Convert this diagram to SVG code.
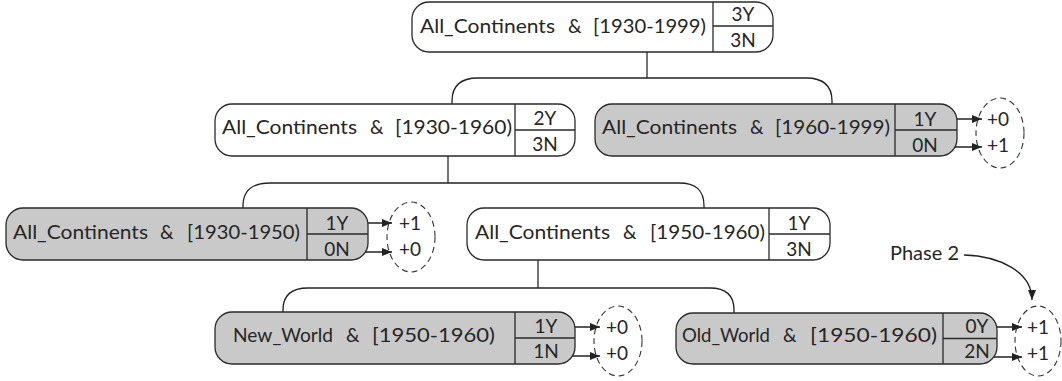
<svg xmlns="http://www.w3.org/2000/svg" width="1062" height="381" viewBox="0 0 1062 381">
<defs>
<marker id="ah" markerUnits="userSpaceOnUse" markerWidth="10" markerHeight="8" refX="10" refY="4" orient="auto"><path d="M0,0 L10,4 L0,8 z" fill="#222"/></marker>
<style>
text{font-family:Lato,"Open Sans","Liberation Sans",sans-serif;font-size:19px;fill:#262626}
.c{text-anchor:middle}
.box{stroke:#2a2a2a;stroke-width:1.3}
.w{fill:#fff}
.g{fill:#c9c9c9}
.ln{stroke:#2a2a2a;stroke-width:1.3;fill:none}
.ar{stroke:#222;stroke-width:1.3;fill:none;marker-end:url(#ah)}
.el{fill:none;stroke:#333;stroke-width:1.1;stroke-dasharray:6 4}
</style>
</defs>
<rect width="1062" height="381" fill="#fff"/>

<g id="connectors">
<path class="ln" d="M588,36 Q588,40 594,40 H641 Q647,40 647,43 Q647,40 653,40 H706 Q712,40 712,36"/>
<path class="ln" d="M647,43 V78"/>
<path class="ar" d="M647,78 H478 C461,78 452,85 452,101 V120"/>
<path class="ar" d="M647,78 H806 C823,78 832,85 832,101 V120"/>
<path class="ln" d="M390,138 Q390,142 396,142 H442 Q448,142 448,146 Q448,142 454,142 H507 Q513,142 513,138"/>
<path class="ln" d="M448,146 V183"/>
<path class="ar" d="M448,183 H270 C252,183 243,190 243,206 V224"/>
<path class="ar" d="M448,183 H679 C696,183 704,190 704,206 V223"/>
<path class="ln" d="M475,243 Q475,247 481,247 H532 Q538,247 538,250 Q538,247 544,247 H606 Q612,247 612,243"/>
<path class="ln" d="M538,250 V288"/>
<path class="ar" d="M538,288 H308 C291,288 283,295 283,310 V327"/>
<path class="ar" d="M538,288 H710 C726,288 734,295 734,310 V328"/>
<path class="ar" d="M964,255 C1000,256 1032,272 1032,300"/>
<path class="ar" d="M947,119 H982"/>
<path class="ar" d="M947,147 H982"/>
<path class="ar" d="M358,223 H392"/>
<path class="ar" d="M358,252 H392"/>
<path class="ar" d="M565,327 H600"/>
<path class="ar" d="M565,356 H600"/>
<path class="ar" d="M987,327 H1022"/>
<path class="ar" d="M987,357 H1022"/>
</g>

<g id="n1">
<rect class="box w" x="412" y="2" width="361" height="50" rx="17"/>
<path class="ln" d="M713,2 V52 M713,26 H773"/>
<text x="420" y="33" textLength="135" lengthAdjust="spacingAndGlyphs">All_Continents</text>
<text x="568" y="33">&amp;</text>
<text x="593" y="33" textLength="113" lengthAdjust="spacingAndGlyphs">[1930-1999)</text>
<text class="c" x="743" y="21">3Y</text>
<text class="c" x="743" y="47">3N</text>
</g>

<g id="n2">
<rect class="box w" x="215" y="104" width="360" height="52" rx="17"/>
<path class="ln" d="M515,104 V156 M515,130 H575"/>
<text x="222" y="134" textLength="135" lengthAdjust="spacingAndGlyphs">All_Continents</text>
<text x="370" y="134">&amp;</text>
<text x="395" y="134" textLength="117" lengthAdjust="spacingAndGlyphs">[1930-1960)</text>
<text class="c" x="545" y="125">2Y</text>
<text class="c" x="545" y="151">3N</text>
</g>

<g id="n3">
<rect class="box g" x="595" y="104" width="362" height="52" rx="17"/>
<path class="ln" d="M895,104 V156 M895,130 H957"/>
<text x="602" y="134" textLength="135" lengthAdjust="spacingAndGlyphs">All_Continents</text>
<text x="750" y="134">&amp;</text>
<text x="775" y="134" textLength="115" lengthAdjust="spacingAndGlyphs">[1960-1999)</text>
<text class="c" x="925" y="126">1Y</text>
<text class="c" x="925" y="152">0N</text>
<ellipse class="el" cx="1000" cy="133" rx="24" ry="35"/>
<text class="c" x="998" y="126">+0</text>
<text class="c" x="998" y="152">+1</text>
</g>

<g id="n4">
<rect class="box g" x="6" y="208" width="362" height="52" rx="17"/>
<path class="ln" d="M307,208 V260 M307,234 H368"/>
<text x="13" y="239" textLength="135" lengthAdjust="spacingAndGlyphs">All_Continents</text>
<text x="160" y="239">&amp;</text>
<text x="187" y="239" textLength="113" lengthAdjust="spacingAndGlyphs">[1930-1950)</text>
<text class="c" x="337" y="230">1Y</text>
<text class="c" x="337" y="256">0N</text>
<ellipse class="el" cx="411" cy="237" rx="24" ry="35"/>
<text class="c" x="410" y="230">+1</text>
<text class="c" x="410" y="256">+0</text>
</g>

<g id="n5">
<rect class="box w" x="467" y="208" width="363" height="52" rx="17"/>
<path class="ln" d="M769,208 V260 M769,234 H830"/>
<text x="475" y="239" textLength="135" lengthAdjust="spacingAndGlyphs">All_Continents</text>
<text x="623" y="239">&amp;</text>
<text x="650" y="239" textLength="115" lengthAdjust="spacingAndGlyphs">[1950-1960)</text>
<text class="c" x="799" y="230">1Y</text>
<text class="c" x="799" y="256">3N</text>
</g>

<g id="n6">
<rect class="box g" x="215" y="312" width="360" height="52" rx="17"/>
<path class="ln" d="M515,312 V364 M515,338 H575"/>
<text x="233" y="342" textLength="100" lengthAdjust="spacingAndGlyphs">New_World</text>
<text x="346" y="342">&amp;</text>
<text x="372" y="342" textLength="123" lengthAdjust="spacingAndGlyphs">[1950-1960)</text>
<text class="c" x="546" y="333">1Y</text>
<text class="c" x="546" y="358">1N</text>
<ellipse class="el" cx="618" cy="341" rx="24" ry="35"/>
<text class="c" x="617" y="334">+0</text>
<text class="c" x="617" y="360">+0</text>
</g>

<g id="n7">
<rect class="box g" x="676" y="313" width="321" height="51" rx="17"/>
<path class="ln" d="M943,313 V364 M943,338.5 H997"/>
<text x="682" y="342" textLength="88" lengthAdjust="spacingAndGlyphs">Old_World</text>
<text x="783" y="342">&amp;</text>
<text x="810" y="342" textLength="127" lengthAdjust="spacingAndGlyphs">[1950-1960)</text>
<text class="c" x="977" y="333">0Y</text>
<text class="c" x="977" y="358">2N</text>
<ellipse class="el" cx="1038" cy="341" rx="23" ry="35"/>
<text class="c" x="1038" y="334">+1</text>
<text class="c" x="1038" y="360">+1</text>
</g>

<g id="phase2">
<text x="890" y="260" textLength="69" lengthAdjust="spacingAndGlyphs">Phase 2</text>
</g>
</svg>
